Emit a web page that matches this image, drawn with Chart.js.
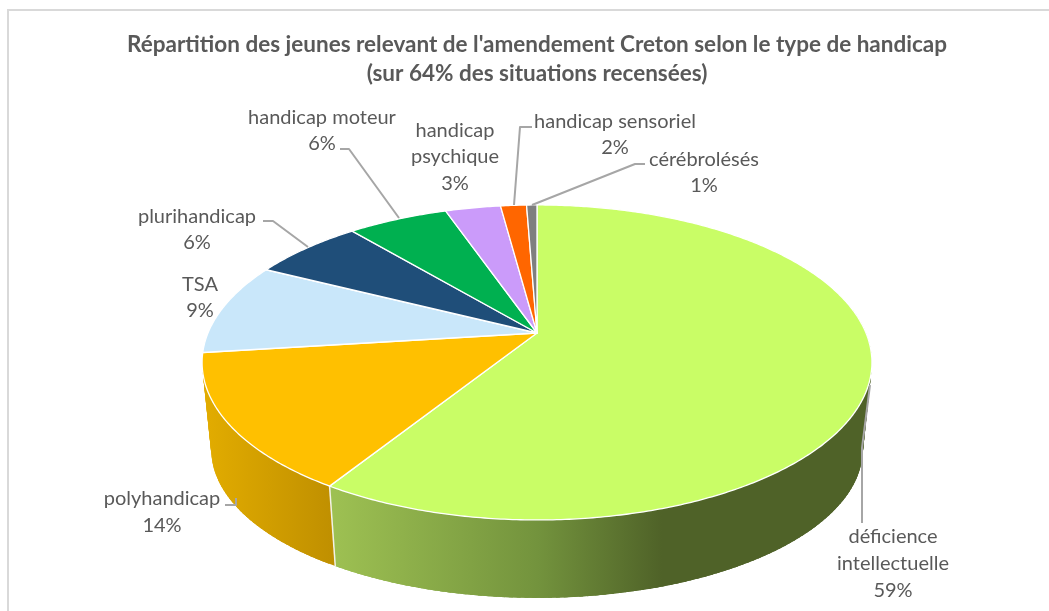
<!DOCTYPE html>
<html lang="fr">
<head>
<meta charset="utf-8">
<title>Répartition des jeunes</title>
<script src="https://cdn.jsdelivr.net/npm/chart.js@4/dist/chart.umd.min.js"></script>
<style>html,body{margin:0;padding:0;background:#fff}canvas{display:block}</style>
</head>
<body>
<canvas id="c" width="1049" height="611"></canvas>
<script>
const categories = ["déficience intellectuelle","polyhandicap","TSA","plurihandicap","handicap moteur","handicap psychique","handicap sensoriel","cérébrolésés"];
const shares = [58.9,14.1,9.45,6.45,5.8,3.2,1.5,0.6];
const sliceColors = ["#C9FD66","#FFC000","#C9E7FA","#1F4E79","#00B050","#CB9BFA","#FF6600","#7F7F7F"];
const titleLines = ["Répartition des jeunes relevant de l'amendement Creton selon le type de handicap","(sur 64% des situations recensées)"];

// layout of the tilted disc and of the outside labels
const K = 0.187;
const TOP = {cx:537, cy:333, R:329, S:152};
const BOTTOM = {cx:537, cy:422, R:320, S:143};
const SIDE_FROM = -0.2;
const labelFont = '20px Lato';
const labelColor = '#595959';
const leaderColor = '#A6A6A6';
const placements = [
 {x:893, y:[543,570,597], wrap:["déficience","intellectuelle"], leader:[[862,523],[862,448],[870,385]]},
 {x:162, y:[505,532], leader:[[225,505],[236,505],[236,498]]},
 {x:200, y:[291,317], leader:null},
 {x:197, y:[223,249], leader:[[263,221],[273,221],[308,247]]},
 {x:322, y:[124,150], leader:[[340,149],[349,149],[399,218]]},
 {x:455, y:[137,163,190], wrap:["handicap","psychique"], leader:null},
 {x:615, y:[128,154], leader:[[532,127],[520,127],[514,205]]},
 {x:704, y:[166,192], leader:[[645,164],[635,164],[532,205]]}
];

function project(rim, t){
  const u = Math.cos(t), v = Math.sin(t), w = 1 - K*v;
  return [rim.cx + rim.R*u/w, rim.cy + rim.S*v/w];
}
function sideGradient(ctx, stops, x0, x1){
  const g = ctx.createLinearGradient(x0,0,x1,0);
  stops.forEach(s=>g.addColorStop(s[0],s[1]));
  return g;
}
const tilted = {
  id:'tilted',
  beforeDraw(chart){
    const ctx = chart.ctx;
    ctx.save();
    ctx.fillStyle='#fff'; ctx.fillRect(0,0,chart.width,chart.height);
    ctx.strokeStyle='#D9D9D9'; ctx.lineWidth=2;
    ctx.beginPath(); ctx.moveTo(8,611); ctx.lineTo(8,10); ctx.lineTo(1049,10); ctx.stroke();
    ctx.restore();
  },
  beforeDatasetsDraw(chart){
    const ctx = chart.ctx;
    const arcs = chart.getDatasetMeta(0).data;
    ctx.save();
    ctx.lineJoin='round';
    // side wall: overlapping strips, so no seams show
    const green = sideGradient(ctx,[[0,'#9DC052'],[0.62,'#73933D'],[1,'#4F6228']],335,662);
    const amber = sideGradient(ctx,[[0,'#E2AC00'],[1,'#BF8F00']],205,335);
    const walls = [green, amber];
    arcs.forEach((a,i)=>{
      const from = Math.max(a.startAngle, SIDE_FROM), to = Math.min(a.endAngle, Math.PI);
      if (to <= from || !walls[i]) return;
      ctx.fillStyle = walls[i];
      const n = Math.ceil((to-from)/0.02);
      for(let j=0;j<n;j++){
        const t0 = from+(to-from)*j/n, t1 = Math.min(to, t0+0.05);
        const p=[project(TOP,t0),project(TOP,t1),project(BOTTOM,t1),project(BOTTOM,t0)];
        ctx.beginPath(); ctx.moveTo(...p[0]); p.slice(1).forEach(q=>ctx.lineTo(...q)); ctx.closePath();
        ctx.fill();
      }
    });
    // wall divider
    const d = arcs[0].endAngle;
    ctx.strokeStyle='#F2F2E8'; ctx.lineWidth=1.5;
    ctx.beginPath(); ctx.moveTo(...project(TOP,d)); ctx.lineTo(...project(BOTTOM,d)); ctx.stroke();
    // top face, from the library's arc angles
    arcs.forEach((a,i)=>{
      ctx.beginPath(); ctx.moveTo(TOP.cx,TOP.cy);
      const n = Math.max(4,Math.ceil((a.endAngle-a.startAngle)/0.01));
      for(let j=0;j<=n;j++) ctx.lineTo(...project(TOP,a.startAngle+(a.endAngle-a.startAngle)*j/n));
      ctx.closePath();
      ctx.fillStyle = sliceColors[i]; ctx.fill();
      ctx.strokeStyle='#fff'; ctx.lineWidth=1.3; ctx.stroke();
    });
    // leaders and labels
    ctx.strokeStyle=leaderColor; ctx.lineWidth=2;
    placements.forEach(p=>{
      if(!p.leader) return;
      ctx.beginPath(); ctx.moveTo(...p.leader[0]); p.leader.slice(1).forEach(q=>ctx.lineTo(...q)); ctx.stroke();
    });
    ctx.font=labelFont; ctx.fillStyle=labelColor; ctx.textAlign='center'; ctx.textBaseline='alphabetic';
    placements.forEach((p,i)=>{
      const lines = (p.wrap || [categories[i]]).concat([Math.round(shares[i])+'%']);
      lines.forEach((l,j)=>ctx.fillText(l,p.x,p.y[j]));
    });
    ctx.restore();
    return false;
  }
};
new Chart(document.getElementById('c'),{
  type:'pie',
  data:{labels:categories,datasets:[{data:shares,backgroundColor:sliceColors}]},
  plugins:[tilted],
  options:{
    responsive:false, animation:false,
    layout:{padding:{left:25}},
    plugins:{
      legend:{display:false},
      tooltip:{enabled:false},
      title:{display:true,text:titleLines,color:'#595959',
        font:{family:'Lato',size:22.5,weight:'bold',lineHeight:1.29},
        padding:{top:30,bottom:10}}
    }
  }
});
</script>
</body>
</html>
